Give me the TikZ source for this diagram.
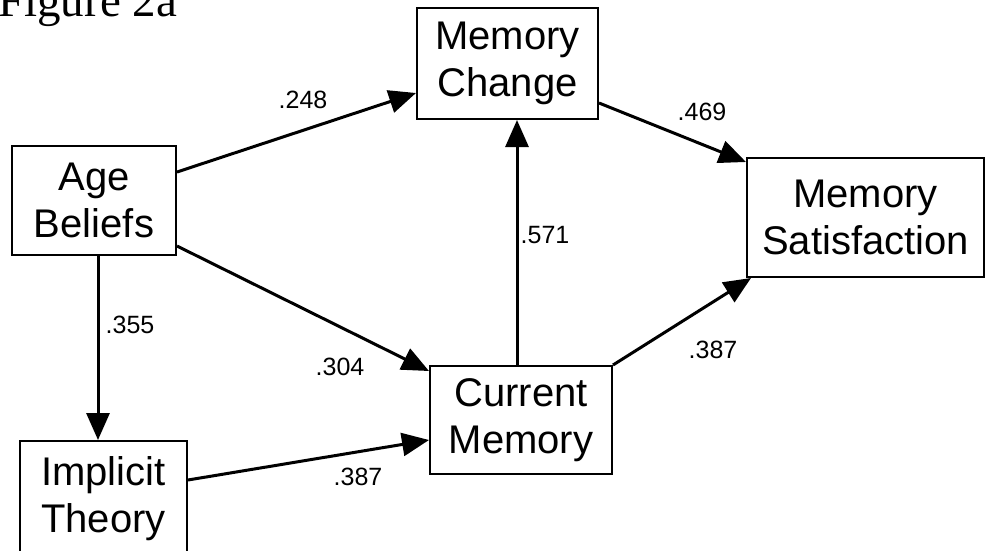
\documentclass[tikz,border=0pt]{standalone}
\usepackage{fontspec}
\setmainfont{Liberation Sans}
\newfontfamily\titlefont{Liberation Serif}
\usepackage{tikz}
\usetikzlibrary{positioning,arrows.meta}
\tikzset{
  varbox/.style = {draw, line width=2pt, align=center, inner sep=0pt,
                   font=\fontsize{40}{47}\selectfont},
  coef/.style   = {font=\fontsize{25}{25}\selectfont, inner sep=0pt},
  link/.style   = {-{Triangle[length=27pt,width=23pt]}, line width=3pt}
}

\begin{document}
\begin{tikzpicture}[x=1pt, y=-1pt]
  \useasboundingbox (0,0) rectangle (989,550);
  % Title
  \node[anchor=base west, inner sep=0pt, font=\titlefont\fontsize{47}{47}\selectfont]
    (title) at (-2,16) {Figure 2a};
  % Variables
  \node[varbox, minimum width=164pt, minimum height=109pt] (age) at (94,200.5)  {Age\\Beliefs};
  \node[varbox, minimum width=181pt, minimum height=111pt] (mc)  at (507.5,63.5) {Memory\\Change};
  \node[varbox, minimum width=237pt, minimum height=119pt] (ms)  at (865.5,217.5) {Memory\\Satisfaction};
  \node[varbox, minimum width=182pt, minimum height=108pt] (cm)  at (521,420)    {Current\\Memory};
  \node[varbox, minimum width=167pt, minimum height=115pt] (it)  at (103.5,498.5) {Implicit\\Theory};
  % Paths
  \draw[link] ([yshift=28.5pt]age.east) -- ([yshift=-29.5pt]mc.west);
  \draw[link] ([yshift=-39.5pt]mc.east) -- ([yshift=-5pt]ms.north west);
  \draw[link] ([xshift=-4pt]cm.north) -- ([xshift=-4pt]cm.north |- mc.south);
  \draw[link] ([yshift=10pt]age.south east) -- ([yshift=-6pt]cm.north west);
  \draw[link] (cm.north east) -- ([xshift=5pt]ms.south west);
  \draw[link] ([xshift=4pt]age.south) -- ([xshift=4pt]age.south |- it.north);
  \draw[link] ([yshift=18.5pt]it.east) -- ([yshift=-20pt]cm.west);
  % Coefficients
  \node[coef] (c248) at (303,100) {.248};
  \node[coef] (c469) at (702,112) {.469};
  \node[coef] (c571) at (545,235) {.571};
  \node[coef] (c304) at (340,367) {.304};
  \node[coef] (c387a) at (713,350) {.387};
  \node[coef] (c355) at (130,325) {.355};
  \node[coef] (c387b) at (358,477) {.387};
\end{tikzpicture}
\end{document}
